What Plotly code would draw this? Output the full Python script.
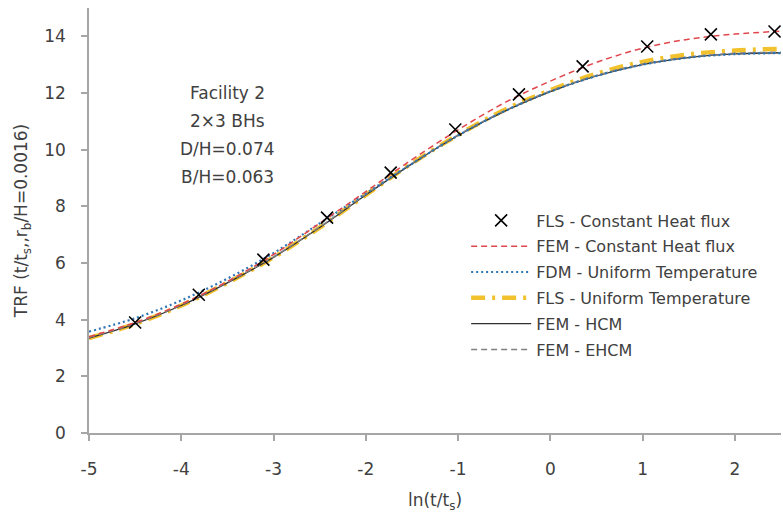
import plotly.graph_objects as go

# ---- data ----
x_fls_chf = [-4.50, -3.81, -3.11, -2.42, -1.73, -1.03, -0.34, 0.35, 1.05, 1.74, 2.43]
y_fls_chf = [3.90, 4.88, 6.12, 7.60, 9.19, 10.71, 11.95, 12.94, 13.64, 14.07, 14.17]

x_curve = [-5.0, -4.5, -4.0, -3.5, -3.0, -2.5, -2.0, -1.5, -1.0, -0.5, 0.0, 0.5, 1.0, 1.5, 2.0, 2.5]
y_fem_chf = [3.40, 3.90, 4.55, 5.35, 6.30, 7.40, 8.52, 9.65, 10.70, 11.65, 12.42, 13.08, 13.58, 13.90, 14.08, 14.18]
y_fdm_ut = [3.58, 4.05, 4.68, 5.45, 6.35, 7.40, 8.45, 9.50, 10.50, 11.35, 12.05, 12.60, 13.00, 13.25, 13.37, 13.41]
y_fls_ut = [3.35, 3.85, 4.50, 5.30, 6.20, 7.25, 8.40, 9.52, 10.52, 11.40, 12.10, 12.68, 13.10, 13.36, 13.50, 13.56]
y_fem_hcm = [3.35, 3.85, 4.50, 5.30, 6.20, 7.25, 8.40, 9.50, 10.50, 11.35, 12.05, 12.60, 13.00, 13.25, 13.38, 13.42]
y_fem_ehcm = [3.37, 3.87, 4.52, 5.32, 6.22, 7.27, 8.42, 9.52, 10.52, 11.37, 12.07, 12.62, 13.02, 13.27, 13.40, 13.44]

names = ["FLS - Constant Heat flux", "FEM - Constant Heat flux", "FDM - Uniform Temperature",
         "FLS - Uniform Temperature", "FEM - HCM", "FEM - EHCM"]

x_ticks = [-5, -4, -3, -2, -1, 0, 1, 2]
y_ticks = [0, 2, 4, 6, 8, 10, 12, 14]

annot_lines = ["Facility 2", "2×3 BHs", "D/H=0.074", "B/H=0.063"]

FONT = "'DejaVu Sans', sans-serif"
TXT = "#404040"

fig = go.Figure()

fig.add_trace(go.Scatter(x=x_curve, y=y_fls_ut, mode="lines", name=names[3], legendgroup="g4",
                         line=dict(color="#F2C12E", width=4.5, dash="14px,7px,3px,7px"),
                         line_shape="spline", legendrank=4))
fig.add_trace(go.Scatter(x=x_curve, y=y_fem_hcm, mode="lines", name=names[4], legendgroup="g5",
                         line=dict(color="#303030", width=1.3), line_shape="spline", legendrank=5))
fig.add_trace(go.Scatter(x=x_curve, y=y_fem_ehcm, mode="lines", name=names[5], legendgroup="g6",
                         line=dict(color="#808080", width=1.5, dash="6px,4px"), line_shape="spline",
                         legendrank=6))
fig.add_trace(go.Scatter(x=x_curve, y=y_fdm_ut, mode="lines", name=names[2], legendgroup="g3",
                         line=dict(color="#2E75B6", width=2.2, dash="2px,3px"), line_shape="spline",
                         legendrank=3))
fig.add_trace(go.Scatter(x=x_curve, y=y_fem_chf, mode="lines", name=names[1], legendgroup="g2",
                         line=dict(color="#E0474C", width=1.5, dash="6px,4px"), line_shape="spline",
                         legendrank=2))
fig.add_trace(go.Scatter(x=x_fls_chf, y=y_fls_chf, mode="markers", name=names[0], legendgroup="g1",
                         marker=dict(symbol="x-thin", size=12, line=dict(color="#000000", width=1.6)),
                         legendrank=1))

# annotation block, one line per annotation to reproduce the wide line spacing
top_y, step_y = 12.0, 0.99
for i, line in enumerate(annot_lines):
    fig.add_annotation(x=-3.5, y=top_y - i * step_y, xref="x", yref="y", text=line,
                       showarrow=False, align="center",
                       font=dict(family=FONT, size=17, color=TXT))

fig.update_layout(
    width=783, height=515,
    margin=dict(l=89, r=2, t=8, b=82),
    paper_bgcolor="white", plot_bgcolor="white",
    font=dict(family=FONT, color=TXT, size=16),
    showlegend=True,
    legend=dict(x=0.545, y=0.54, xanchor="left", yanchor="top", bgcolor="rgba(0,0,0,0)",
                font=dict(family=FONT, size=16, color=TXT), tracegroupgap=2,
                itemwidth=60, traceorder="grouped"),
    xaxis=dict(range=[-5, 2.5], tickvals=x_ticks, ticktext=[str(v) for v in x_ticks],
               showgrid=False, zeroline=False, showline=True, linecolor="#A6A6A6", linewidth=1.5,
               ticks="outside", ticklen=6, tickcolor="#A6A6A6", tickwidth=1.5,
               ticklabelstandoff=14,
               tickfont=dict(size=17, color=TXT),
               title=dict(text="ln(t/t<sub>s</sub>)", font=dict(size=17, color=TXT), standoff=16)),
    yaxis=dict(range=[0, 15], tickvals=y_ticks, ticktext=[str(v) for v in y_ticks],
               showgrid=False, zeroline=False, showline=True, linecolor="#A6A6A6", linewidth=1.5,
               ticks="outside", ticklen=6, tickcolor="#A6A6A6", tickwidth=1.5,
               ticklabelstandoff=12,
               tickfont=dict(size=17, color=TXT),
               title=dict(text="TRF (t/t<sub>s</sub>,,r<sub>b</sub>/H=0.0016)",
                          font=dict(size=17, color=TXT), standoff=12)),
)

fig.write_html("out.html")
